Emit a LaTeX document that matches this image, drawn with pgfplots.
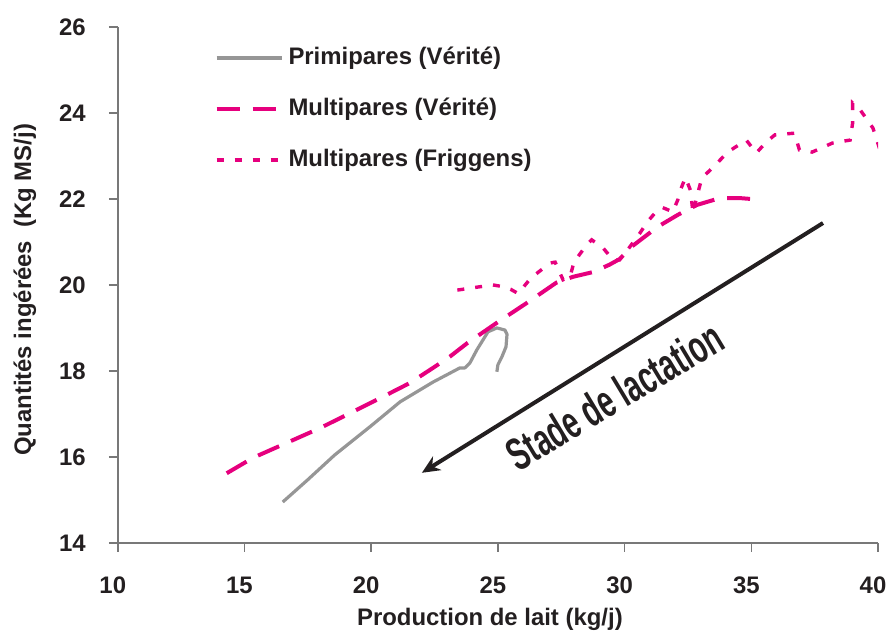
\documentclass[border=0pt]{standalone}
\usepackage{pgfplots}
\pgfplotsset{compat=1.18}
\usepackage{fontspec}
\setmainfont{Liberation Sans}
\usetikzlibrary{arrows.meta}
\definecolor{mag}{RGB}{230,0,126}
\definecolor{grayline}{RGB}{150,150,150}
\definecolor{txt}{RGB}{35,31,32}
\definecolor{axcol}{RGB}{120,120,120}
\begin{document}
\begin{tikzpicture}
\useasboundingbox (-58.9bp,-46bp) rectangle (384.7bp,271.5bp);
\begin{axis}[
  at={(0,0)}, anchor=south west,
  scale only axis, width=380.2bp, height=258bp,
  xmin=10, xmax=40, ymin=14, ymax=26,
  xtick={10,15,...,40}, ytick={14,16,...,26},
  axis x line=bottom, axis y line=left,
  axis line style={axcol, line width=0.75bp, -},
  tick style={axcol, line width=0.75bp},
  tick align=outside, major tick length=4.5bp,
  /pgf/number format/assume math mode=true,
  tick label style={font=\fontsize{12}{12}\selectfont\bfseries, text=txt},
  xticklabel style={yshift=-9bp, xshift=-2.5bp},
  yticklabel style={xshift=-8bp},
  xlabel={Production de lait (kg/j)},
  ylabel={Quantités ingérées\ \ (Kg MS/j)},
  label style={font=\fontsize{12}{12}\selectfont\bfseries, text=txt},
  xlabel style={at={(axis description cs:0.5,0)}, anchor=center, yshift=-38.5bp, xshift=-4bp},
  ylabel style={at={(axis description cs:0,0.5)}, anchor=center, yshift=46.5bp, xshift=-2.5bp},
  legend style={draw=none, fill=none, at={(axis cs:13.96,25.85)}, anchor=north west,
    yshift=-6.5bp, xshift=-2bp,
    inner sep=0pt, row sep=14.4bp, column sep=2.5bp,
    font=\fontsize{12}{12}\selectfont\bfseries, text=txt,
    nodes={inner sep=0pt, text height=8.6bp, text depth=2.5bp}},
  legend cell align=left,
  legend image code/.code={\draw[#1] (0bp,0bp) -- (32.5bp,0bp);},
]
\addplot[grayline, line width=1.6bp, line join=round] coordinates {
(16.51,14.95) (17.5,15.47) (18.57,16.05) (19.95,16.70) (21.14,17.28)
(22.44,17.74) (23.50,18.07) (23.70,18.07) (23.90,18.19) (24.17,18.49)
(24.61,18.91) (24.96,19.0) (25.28,18.95) (25.36,18.85) (25.32,18.56)
(25.16,18.33) (25.0,18.14) (24.96,17.98)};
\addlegendentry{Primipares (Vérité)}
\addplot[mag, line width=2bp, dash pattern=on 11.5bp off 6.5bp] coordinates {
(14.3,15.62) (15.34,15.98) (16.68,16.33) (17.98,16.67) (19.28,17.05)
(20.6,17.44) (21.53,17.72) (22.44,18.07) (23.1,18.33) (23.8,18.65)
(24.96,19.12) (26.14,19.58) (27.3,20.05) (27.97,20.19) (28.76,20.3)
(29.4,20.47) (29.8,20.6) (30.3,20.9) (31.3,21.35) (32.1,21.63)
(32.85,21.86) (33.76,22.02) (34.55,22.02) (35.4,21.98)};
\addlegendentry{Multipares (Vérité)}
\addplot[mag, line width=1.7bp, dash pattern=on 3.5bp off 5.5bp] coordinates {
(23.4,19.88) (24.2,19.95) (24.8,20.0) (25.1,19.97) (25.5,19.9)
(25.8,19.8) (26.3,20.16) (27.06,20.51) (27.26,20.53) (27.57,20.12)
(27.85,20.19) (28.0,20.53) (28.5,20.93) (28.7,21.05) (29.15,20.86)
(29.55,20.58) (29.8,20.58) (30.2,20.88) (30.6,21.2) (30.9,21.47)
(31.3,21.74) (31.5,21.8) (31.9,21.7) (32.1,21.98) (32.2,22.2)
(32.4,22.5) (32.6,22.2) (32.7,21.67) (32.85,22.05) (33.05,22.49)
(33.5,22.74) (34.07,23.09) (34.8,23.37) (35.2,23.07) (35.6,23.33)
(35.93,23.49) (36.7,23.53) (36.9,23.14) (37.4,23.09) (38.2,23.3)
(38.9,23.37) (39.0,23.77) (39.0,24.23) (39.3,24.07) (39.8,23.65)
(40.1,23.1)};
\addlegendentry{Multipares (Friggens)}
\addplot[forget plot, txt, line width=2bp, -{Stealth[length=9bp, width=8bp]}] coordinates {
(37.83,21.44) (22.0,15.63)};
\node[rotate=31, text=txt, font=\fontsize{23}{23}\selectfont\bfseries, inner sep=0pt] at (axis cs:29.6,17.42) {\scalebox{0.62}[1]{Stade de lactation}};
\end{axis}
\end{tikzpicture}
\end{document}
